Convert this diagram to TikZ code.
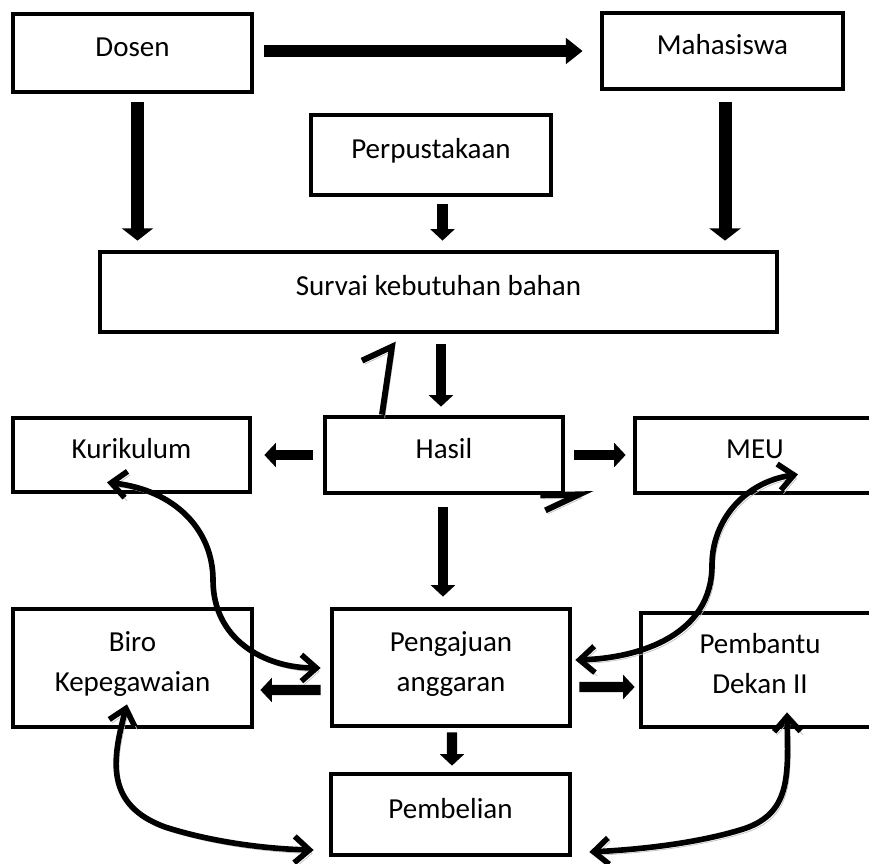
\documentclass[tikz,border=0pt]{standalone}
\usepackage{fontspec}
\setmainfont{Carlito}
\usetikzlibrary{arrows.meta,calc}

\begin{document}
\begin{tikzpicture}[x=0.2mm,y=-0.2mm,
  every node/.style={font=\fontsize{16.5}{22.7}\selectfont},
  box/.style 2 args={draw,fill=white,line width=2.7pt,minimum width=#1*0.2mm,minimum height=#2*0.2mm,inner sep=0pt,align=center,text depth=7pt},
  widearrow/.style={line width=6.8pt,-{Triangle[length=9.6pt,width=14.5pt]}},
  bigarrow/.style={line width=7.4pt,-{Triangle[length=7pt,width=17.6pt]}},
  smallarrow/.style={line width=5.8pt,-{Triangle[length=6.5pt,width=13.5pt]}},
  shade/.style={preaction={draw=gray!50,transform canvas={xshift=1.5pt,yshift=-2pt}}},
  curvearrow/.style={shade,line width=3.2pt,{Straight Barb[length=8.5pt,width=15pt]}-{Straight Barb[length=8.5pt,width=15pt]}},
  stray/.style={shade,line width=3.4pt}]
\useasboundingbox (0,0) rectangle (869,863);
% boxes
\node[box={239}{78}] (dosen) at (132.5,53) {Dosen};
\node[box={241}{76}] (mahasiswa) at (722.5,51) {Mahasiswa};
\node[box={240}{80}] (perpustakaan) at (431,155) {Perpustakaan};
\node[box={677}{80}] (survai) at (438.5,292) {Survai kebutuhan bahan};
\node[box={237}{74}] (kurikulum) at (131.5,455) {Kurikulum};
\node[box={238}{76}] (hasil) at (444,455) {Hasil};
\node[box={240}{75}] (meu) at (755,455.5) {MEU};
\node[box={239}{118}] (biro) at (132.5,668) {Biro\\Kepegawaian};
\node[box={238}{117}] (pengajuan) at (451,667.5) {Pengajuan\\anggaran};
\node[box={238}{114}] (pembantu) at (760,670) {Pembantu\\Dekan II};
\node[box={239}{81}] (pembelian) at (450.5,814.5) {Pembelian};
% straight arrows
\draw[widearrow] ($(dosen.east)+(10,-2)$) -- ($(mahasiswa.west)+(-17,0)$);
\draw[bigarrow] ($(dosen.south)+(5,8)$) -- ($(dosen.south |- survai.north)+(5,-9)$);
\draw[bigarrow] ($(mahasiswa.south)+(2.5,11)$) -- ($(mahasiswa.south |- survai.north)+(2.5,-9)$);
\draw[smallarrow] ($(perpustakaan.south)+(11.5,7)$) -- ($(perpustakaan.south |- survai.north)+(11.5,-9)$);
\draw[smallarrow] ($(survai.south)+(2.5,10)$) -- ($(survai.south |- hasil.north)+(2.5,-8)$);
\draw[smallarrow] ($(hasil.west)+(-10,0)$) -- ($(kurikulum.east)+(12,0)$);
\draw[smallarrow] ($(hasil.east)+(9,0)$) -- ($(meu.west)+(-7,-0.5)$);
\draw[smallarrow] ($(hasil.south)+(-1,12)$) -- ($(hasil.south |- pengajuan.north)+(-1,-10)$);
\draw[smallarrow] ($(pengajuan.west)+(-9,22.5)$) -- ($(biro.east)+(6,22)$);
\draw[smallarrow] ($(pengajuan.east)+(7,19.5)$) -- ($(pembantu.west)+(-4,17)$);
\draw[smallarrow] ($(pengajuan.south)+(1,4)$) -- ($(pembelian.north)+(1.5,-6)$);
% curved arrows
\draw[curvearrow] ($(kurikulum.south)+(-24.5,-12)$) .. controls (175,490) and (213,530) .. (213,580)
  .. controls (213,640) and (265,668) .. ($(pengajuan.west)+(-9,0.5)$);
\draw[curvearrow] ($(meu.south)+(43,-21)$) .. controls (745,482) and (712,520) .. (712,565)
  .. controls (712,635) and (640,658) .. ($(pengajuan.east)+(3,-7.5)$);
\draw[curvearrow] ($(biro.south)+(-5.5,-25)$) .. controls (112,760) and (105,805) .. (165,827)
  .. controls (215,843) and (270,849) .. ($(pembelian.west)+(-15,35.5)$);
\draw[curvearrow] ($(pembantu.south)+(27,-17)$) .. controls (788,775) and (792,815) .. (740,830)
  .. controls (690,845) and (630,850) .. ($(pembelian.east)+(17,37.5)$);
% loose tips at hasil
\draw[stray] ($(hasil.north)+(-62,0)$) -- ($(hasil.north)+(-52,-68)$) -- ($(hasil.north)+(-82,-54)$);
\draw[stray] ($(hasil.south east)+(-25,0)$) -- ($(hasil.south east)+(14,-1)$) -- ($(hasil.south east)+(-20,15)$);
\end{tikzpicture}
\end{document}
